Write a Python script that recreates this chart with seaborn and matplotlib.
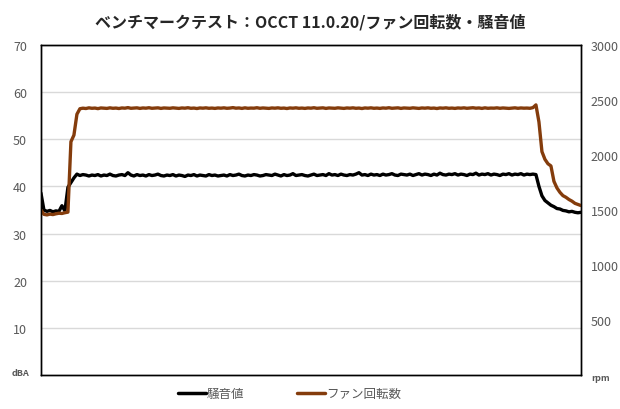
import numpy as np
import pandas as pd
import matplotlib
matplotlib.use("Agg")
import matplotlib.pyplot as plt
import seaborn as sns
from matplotlib.lines import Line2D

# noise level (dBA), one reading per sample
noise_db = [
    38.6, 35.0, 34.7, 34.9, 34.6, 34.8, 34.7, 35.9, 34.8, 39.8, 40.8, 41.8, 42.6,
    42.3, 42.5, 42.4, 42.2, 42.4, 42.3, 42.5, 42.2, 42.4, 42.3, 42.6, 42.3, 42.2, 42.4, 42.5, 42.3,
    42.9, 42.4, 42.2, 42.5, 42.3, 42.4, 42.2, 42.5, 42.3, 42.4, 42.6, 42.3, 42.2, 42.4, 42.3, 42.5,
    42.2, 42.4, 42.3, 42.1, 42.4, 42.3, 42.5, 42.2, 42.4, 42.3, 42.2, 42.5, 42.3, 42.4, 42.2, 42.3,
    42.4, 42.2, 42.5, 42.3, 42.4, 42.6, 42.3, 42.2, 42.4, 42.3, 42.5, 42.4, 42.2, 42.3, 42.5, 42.4,
    42.3, 42.6, 42.4, 42.2, 42.5, 42.3, 42.4, 42.7, 42.3, 42.4, 42.5, 42.3, 42.2, 42.4, 42.6, 42.3,
    42.4, 42.5, 42.3, 42.7, 42.4, 42.5, 42.3, 42.6, 42.4, 42.3, 42.5, 42.4, 42.6, 42.9, 42.4, 42.5,
    42.3, 42.6, 42.4, 42.5, 42.3, 42.6, 42.4, 42.5, 42.7, 42.4, 42.3, 42.6, 42.5, 42.4, 42.6, 42.3,
    42.5, 42.7, 42.4, 42.6, 42.5, 42.3, 42.6, 42.4, 42.8, 42.5, 42.4, 42.6, 42.5, 42.7, 42.4, 42.6,
    42.5, 42.3, 42.6, 42.5, 42.8, 42.4, 42.6, 42.5, 42.7, 42.4, 42.6, 42.5, 42.3, 42.6, 42.5, 42.7,
    42.4, 42.6, 42.5, 42.7, 42.4, 42.6, 42.5, 42.6,
    42.5, 40.0, 38.0, 37.0, 36.5, 36.0, 35.7, 35.3, 35.2, 34.9, 34.8, 34.6, 34.7, 34.5, 34.4, 34.5,
]

# fan speed (rpm)
fan_rpm = [
    1500, 1460, 1455, 1462, 1458, 1465, 1470, 1468, 1475, 1480, 2120, 2180, 2370,
    2420, 2425, 2422, 2428, 2424, 2426, 2421, 2427, 2425, 2423, 2428, 2424, 2426, 2422, 2427, 2425,
    2430, 2424, 2426, 2428, 2423, 2427, 2425, 2429, 2424, 2426, 2428, 2423, 2427, 2425, 2424, 2428,
    2426, 2423, 2427, 2425, 2429, 2424, 2426, 2422, 2427, 2425, 2428, 2424, 2426, 2423, 2427, 2425,
    2428, 2424, 2426, 2430, 2425, 2427, 2423, 2428, 2424, 2426, 2425, 2429, 2424, 2427, 2425, 2423,
    2427, 2425, 2428, 2424, 2426, 2422, 2427, 2425, 2428, 2424, 2426, 2423, 2427, 2425, 2429, 2424,
    2426, 2428, 2423, 2427, 2425, 2424, 2428, 2426, 2423, 2427, 2425, 2428, 2424, 2426, 2422, 2427,
    2425, 2428, 2424, 2426, 2423, 2427, 2425, 2429, 2424, 2426, 2428, 2423, 2427, 2425, 2424, 2428,
    2426, 2423, 2427, 2425, 2428, 2424, 2426, 2422, 2427, 2425, 2428, 2424, 2426, 2423, 2427, 2425,
    2428, 2424, 2426, 2429, 2425, 2427, 2423, 2428, 2424, 2426, 2425, 2428, 2424, 2427, 2425, 2423,
    2426, 2428, 2424, 2427, 2425, 2426, 2424, 2430,
    2455, 2300, 2030, 1960, 1920, 1900, 1760, 1700, 1660, 1630, 1615, 1595, 1580, 1560, 1550, 1540,
]

db_ticks = [10, 20, 30, 40, 50, 60, 70]
rpm_ticks = [500, 1000, 1500, 2000, 2500, 3000]
title = "ベンチマークテスト：OCCT 11.0.20/ファン回転数・騒音値"

df = pd.DataFrame({"sample": np.arange(len(noise_db)), "noise": noise_db, "rpm": fan_rpm})

sns.set_style("white")
plt.rcParams["font.family"] = ["Noto Sans CJK JP", "DejaVu Sans"]

gray = "#595959"
brown = "#843C0C"

fig, ax = plt.subplots(figsize=(6.2, 4.1), dpi=100)
fig.subplots_adjust(left=0.066, right=0.937, bottom=0.083, top=0.888)

sns.lineplot(data=df, x="sample", y="noise", ax=ax, color="black", lw=2.4, legend=False)
ax.set_ylim(0, 70)
ax.set_xlim(0, len(noise_db) - 1)
ax.set_yticks(db_ticks)
ax.set_xticks([])
ax.set_xlabel("")
ax.set_ylabel("")
ax.yaxis.grid(True, color="#D9D9D9", lw=1)
ax.set_axisbelow(True)
ax.tick_params(axis="y", length=0, labelsize=9, labelcolor=gray, pad=10)

ax2 = ax.twinx()
sns.lineplot(data=df, x="sample", y="rpm", ax=ax2, color=brown, lw=2.4, legend=False)
ax2.set_ylim(0, 3000)
ax2.set_yticks(rpm_ticks)
ax2.set_ylabel("")
ax2.grid(False)
ax2.tick_params(axis="y", length=0, labelsize=9, labelcolor=gray, pad=7)

for a in (ax, ax2):
    for s in a.spines.values():
        s.set_visible(True)
        s.set_color("black")
        s.set_linewidth(1)

fig.text(0.033, 0.088, "dBA", fontsize=6.5, color=gray, fontweight="bold", ha="center", va="center")
fig.text(0.968, 0.078, "rpm", fontsize=6.5, color=gray, fontweight="bold", ha="center", va="center")

fig.suptitle(title, x=0.5, y=0.945, fontsize=11.5, fontweight="bold", va="center")

handles = [Line2D([], [], color="black", lw=2.5), Line2D([], [], color=brown, lw=2.5)]
fig.legend(handles, ["騒音値", "ファン回転数"], loc="center", bbox_to_anchor=(0.467, 0.038),
           ncol=2, frameon=False, fontsize=9, labelcolor=gray, handlelength=2.2,
           handletextpad=0.1, columnspacing=4.2)

fig.savefig("out.png", dpi=100)
